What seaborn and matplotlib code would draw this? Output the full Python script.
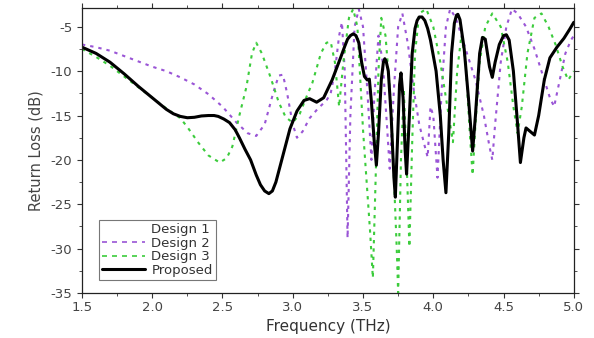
import numpy as np
import pandas as pd
import matplotlib
matplotlib.use("Agg")
import matplotlib.pyplot as plt
import seaborn as sns
from matplotlib.lines import Line2D
from matplotlib.ticker import MultipleLocator

# ---- data ----
prop_f = [1.50, 1.60, 1.70, 1.80, 1.90, 2.00, 2.10, 2.15, 2.20, 2.25, 2.30, 2.35, 2.40, 2.44, 2.47,
          2.51, 2.55, 2.59, 2.62, 2.66, 2.70, 2.74, 2.77, 2.80, 2.83, 2.855, 2.88, 2.905, 2.93, 2.955,
          2.98, 3.03, 3.08, 3.12, 3.17, 3.22, 3.28, 3.34, 3.37, 3.39, 3.41, 3.43, 3.45, 3.47, 3.49,
          3.51, 3.53, 3.545, 3.56, 3.58, 3.595, 3.61, 3.63, 3.645, 3.655, 3.665, 3.68, 3.70, 3.72, 3.73,
          3.745, 3.76, 3.77, 3.785, 3.80, 3.81, 3.83, 3.85, 3.87, 3.885, 3.90, 3.92, 3.94, 3.96, 3.98,
          4.02, 4.05, 4.07, 4.09, 4.11, 4.13, 4.15, 4.165, 4.175, 4.19, 4.22, 4.25, 4.28, 4.30, 4.33,
          4.35, 4.37, 4.40, 4.42, 4.44, 4.47, 4.50, 4.52, 4.54, 4.57, 4.60, 4.62, 4.645, 4.66, 4.69,
          4.72, 4.75, 4.79, 4.83, 4.88, 4.93, 4.97, 5.00]
prop_v = [-7.3, -8.0, -9.0, -10.3, -11.7, -13.0, -14.3, -14.8, -15.1, -15.25, -15.2, -15.05, -15.0, -15.0, -15.1,
          -15.4, -15.8, -16.6, -17.5, -18.8, -20.0, -21.7, -22.8, -23.5, -23.8, -23.5, -22.5, -21.0, -19.5, -18.0,
          -16.5, -14.5, -13.3, -13.1, -13.5, -13.0, -11.0, -8.5, -7.2, -6.4, -6.0, -5.8, -6.0, -6.8, -9.0,
          -10.6, -11.0, -10.9, -13.5, -18.0, -20.6, -17.0, -11.0, -9.0, -8.6, -8.9, -10.0, -15.0, -22.0, -24.2,
          -18.0, -11.5, -10.2, -13.0, -19.0, -21.6, -15.0, -8.0, -5.2, -4.3, -3.9, -3.9, -4.3, -5.2, -6.5,
          -10.0, -15.0, -20.0, -23.7, -17.0, -8.0, -4.6, -3.7, -3.6, -4.2, -7.5, -13.0, -19.0, -15.0, -8.0,
          -6.2, -6.4, -9.5, -10.7, -9.0, -7.0, -6.0, -5.9, -6.5, -10.0, -16.0, -20.3, -17.5, -16.4, -16.8,
          -17.2, -15.0, -11.0, -8.5, -7.3, -6.3, -5.3, -4.5]

d2_f = [1.50, 1.60, 1.70, 1.80, 1.90, 2.00, 2.10, 2.20, 2.30, 2.40, 2.50, 2.60, 2.68, 2.74, 2.80,
        2.86, 2.90, 2.93, 2.96, 3.00, 3.03, 3.07, 3.12, 3.18, 3.24, 3.27, 3.30, 3.33, 3.35, 3.37,
        3.39, 3.41, 3.44, 3.47, 3.50, 3.53, 3.56, 3.58, 3.61, 3.64, 3.67, 3.69, 3.72, 3.75, 3.78,
        3.82, 3.86, 3.90, 3.94, 3.96, 3.98, 4.00, 4.03, 4.06, 4.09, 4.12, 4.16, 4.22, 4.30, 4.36,
        4.40, 4.42, 4.44, 4.48, 4.52, 4.56, 4.60, 4.66, 4.72, 4.78, 4.83, 4.86, 4.90, 4.94, 4.98, 5.00]
d2_v = [-7.0, -7.3, -7.7, -8.3, -8.9, -9.5, -10.0, -10.7, -11.5, -12.6, -14.0, -15.8, -17.0, -17.3, -16.0,
        -12.5, -10.5, -10.4, -12.5, -16.0, -17.5, -16.8, -15.3, -14.2, -13.3, -12.5, -10.0, -6.0, -4.5, -10.0,
        -28.8, -15.0, -5.0, -3.0, -5.0, -12.0, -20.0, -13.0, -6.0, -9.0, -16.0, -21.0, -12.0, -5.0, -3.5,
        -7.0, -12.0, -16.0, -18.5, -19.7, -14.0, -15.0, -22.0, -12.0, -5.0, -3.0, -4.0, -7.0, -11.0, -15.0,
        -18.5, -20.0, -16.0, -9.0, -5.0, -3.0, -3.5, -5.0, -7.5, -10.5, -13.0, -14.0, -11.0, -8.0, -6.5, -6.0]

d3_f = [1.50, 1.60, 1.70, 1.80, 1.90, 2.00, 2.10, 2.20, 2.25, 2.33, 2.40, 2.48, 2.53, 2.57, 2.62,
        2.67, 2.71, 2.74, 2.78, 2.84, 2.90, 2.95, 3.00, 3.05, 3.10, 3.14, 3.20, 3.24, 3.27, 3.30,
        3.33, 3.36, 3.40, 3.43, 3.46, 3.50, 3.55, 3.57, 3.59, 3.61, 3.63, 3.66, 3.70, 3.74, 3.75,
        3.77, 3.79, 3.81, 3.83, 3.85, 3.87, 3.90, 3.95, 4.00, 4.05, 4.10, 4.14, 4.17, 4.20, 4.23,
        4.26, 4.28, 4.30, 4.33, 4.37, 4.42, 4.48, 4.53, 4.57, 4.60, 4.63, 4.67, 4.72, 4.77, 4.82,
        4.87, 4.92, 4.96, 5.00]
d3_v = [-7.5, -8.4, -9.4, -10.6, -11.8, -13.0, -14.2, -15.3, -16.3, -18.1, -19.5, -20.3, -19.8, -18.5, -15.0,
        -11.8, -8.0, -6.8, -8.0, -10.6, -13.5, -15.2, -15.8, -14.8, -12.8, -11.3, -8.0, -6.8, -6.7, -9.0,
        -14.0, -9.0, -4.0, -3.0, -5.0, -16.6, -28.0, -33.3, -22.0, -10.0, -4.0, -6.0, -14.0, -30.0, -35.0,
        -20.0, -12.0, -20.0, -29.8, -18.0, -8.0, -3.5, -3.0, -5.0, -9.0, -14.0, -18.0, -10.0, -6.0, -9.0,
        -17.0, -21.7, -16.0, -9.0, -5.0, -3.5, -5.0, -9.0, -14.0, -17.0, -14.0, -8.0, -4.0, -3.5, -5.0,
        -7.0, -9.5, -11.0, -10.0]

labels = ["Design 1", "Design 2", "Design 3", "Proposed"]
x_ticks = [1.5, 2.0, 2.5, 3.0, 3.5, 4.0, 4.5, 5.0]
y_ticks = [-35, -30, -25, -20, -15, -10, -5]

# ---- style ----
sns.set_theme(style="ticks")
plt.rcParams['font.family'] = ['DejaVu Sans']

fig = plt.figure(figsize=(5.94, 3.38), dpi=100)
ax = fig.add_axes([0.138, 0.133, 0.828, 0.843])

purple = "#9a55d6"
green = "#3ccc3c"

sns.lineplot(x=d2_f, y=d2_v, ax=ax, color=purple, lw=1.5, sort=False,
             linestyle=(0, (1.6, 2.4)), estimator=None)
sns.lineplot(x=d3_f, y=d3_v, ax=ax, color=green, lw=1.5, sort=False,
             linestyle=(0, (1.6, 2.4)), estimator=None)
sns.lineplot(x=prop_f, y=prop_v, ax=ax, color="black", lw=2.2, sort=False, estimator=None)
for ln in ax.get_lines():
    ln.set_solid_joinstyle("round")

ax.set_xlim(1.5, 5.0)
ax.set_ylim(-35, -2.9)
ax.set_xticks(x_ticks)
ax.set_xticklabels([f"{t:.1f}" for t in x_ticks])
ax.set_yticks(y_ticks)
ax.set_yticklabels([str(t) for t in y_ticks])
ax.xaxis.set_minor_locator(MultipleLocator(0.25))
ax.yaxis.set_minor_locator(MultipleLocator(2.5))
ax.tick_params(which="both", top=True, right=True, direction="out", colors="#333333",
               labelsize=9.5, labelcolor="#444444")
ax.tick_params(which="major", length=3.5, width=0.8)
ax.tick_params(which="minor", length=2, width=0.6)
ax.tick_params(axis="x", pad=2.5)
for s in ax.spines.values():
    s.set_color("#222222")
    s.set_linewidth(0.9)

ax.set_xlabel("Frequency (THz)", fontsize=11, color="#333333", labelpad=3)
ax.set_ylabel("Return Loss (dB)", fontsize=10.5, color="#444444", labelpad=5)

handles = [
    Line2D([], [], color="white", lw=1.2),
    Line2D([], [], color=purple, lw=1.2, linestyle=(0, (3, 3))),
    Line2D([], [], color=green, lw=1.2, linestyle=(0, (3, 3))),
    Line2D([], [], color="black", lw=2.2),
]
leg = ax.legend(handles, labels, loc="lower left", bbox_to_anchor=(0.035, 0.045),
                fontsize=9.5, frameon=True, fancybox=False, edgecolor="#555555",
                handlelength=3.2, handletextpad=0.5, borderpad=0.25, labelspacing=0.05,
                borderaxespad=0)
leg.get_frame().set_linewidth(0.8)
for t in leg.get_texts():
    t.set_color("#333333")

fig.savefig("out.png", dpi=100, facecolor="white")
